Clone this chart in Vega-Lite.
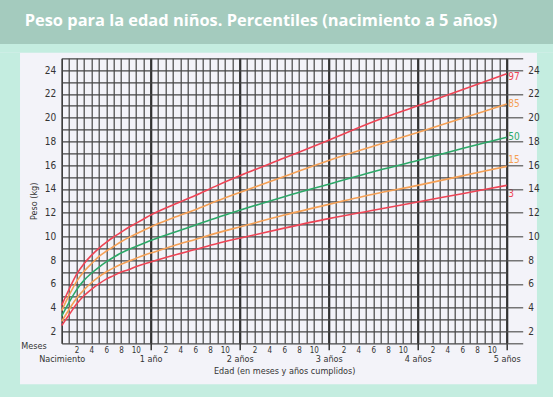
{
  "$schema": "https://vega.github.io/schema/vega-lite/v6.json",
  "width": 445,
  "height": 285,
  "autosize": "none",
  "padding": {"left": 61.7, "top": 58.3, "right": 46.3, "bottom": 53.7},
  "background": "#f3f3f9",
  "config": {
    "view": {"stroke": null},
    "axis": {"domain": false, "labelFont": "DejaVu Sans Condensed", "titleFont": "DejaVu Sans Condensed", "labelColor": "#333", "titleColor": "#333", "titleFontWeight": "normal", "labelFlush": false, "labelOverlap": false, "labelBound": false}
  },
  "datasets": {
    "who": [
      {"m": 0, "3": 2.5, "15": 2.85, "50": 3.3, "85": 3.75, "97": 4.2},
      {"m": 1, "3": 3.4, "15": 3.85, "50": 4.45, "85": 5.05, "97": 5.55},
      {"m": 2, "3": 4.3, "15": 4.8, "50": 5.5, "85": 6.2, "97": 6.8},
      {"m": 3, "3": 5.0, "15": 5.5, "50": 6.3, "85": 7.05, "97": 7.7},
      {"m": 4, "3": 5.55, "15": 6.1, "50": 6.9, "85": 7.7, "97": 8.4},
      {"m": 5, "3": 6.0, "15": 6.6, "50": 7.4, "85": 8.3, "97": 9.0},
      {"m": 6, "3": 6.4, "15": 7.0, "50": 7.85, "85": 8.75, "97": 9.5},
      {"m": 7, "3": 6.7, "15": 7.35, "50": 8.25, "85": 9.15, "97": 9.95},
      {"m": 8, "3": 7.0, "15": 7.65, "50": 8.6, "85": 9.55, "97": 10.35},
      {"m": 9, "3": 7.2, "15": 7.9, "50": 8.9, "85": 9.9, "97": 10.75},
      {"m": 10, "3": 7.45, "15": 8.15, "50": 9.15, "85": 10.2, "97": 11.1},
      {"m": 11, "3": 7.65, "15": 8.4, "50": 9.4, "85": 10.5, "97": 11.45},
      {"m": 12, "3": 7.85, "15": 8.6, "50": 9.65, "85": 10.8, "97": 11.8},
      {"m": 15, "3": 8.4, "15": 9.2, "50": 10.3, "85": 11.55, "97": 12.65},
      {"m": 18, "3": 8.9, "15": 9.75, "50": 10.95, "85": 12.25, "97": 13.45},
      {"m": 21, "3": 9.4, "15": 10.3, "50": 11.6, "85": 13.0, "97": 14.3},
      {"m": 24, "3": 9.85, "15": 10.8, "50": 12.2, "85": 13.7, "97": 15.1},
      {"m": 30, "3": 10.7, "15": 11.8, "50": 13.35, "85": 15.05, "97": 16.6},
      {"m": 36, "3": 11.5, "15": 12.7, "50": 14.4, "85": 16.4, "97": 18.1},
      {"m": 42, "3": 12.2, "15": 13.55, "50": 15.45, "85": 17.6, "97": 19.65},
      {"m": 48, "3": 12.9, "15": 14.3, "50": 16.4, "85": 18.75, "97": 21.0},
      {"m": 54, "3": 13.6, "15": 15.1, "50": 17.4, "85": 19.95, "97": 22.35},
      {"m": 60, "3": 14.3, "15": 15.9, "50": 18.35, "85": 21.15, "97": 23.7}
    ]
  },
  "layer": [
    {
      "data": {"values": [{}]},
      "mark": {"type": "rect", "color": "#c4ede0"},
      "encoding": {
        "x": {"datum": -20, "type": "quantitative", "axis": null},
        "x2": {"datum": 80},
        "y": {"datum": 25.47, "type": "quantitative", "axis": null},
        "y2": {"datum": 40}
      }
    },
    {
      "data": {"values": [{}]},
      "mark": {"type": "rect", "color": "#a4cbbe"},
      "encoding": {
        "x": {"datum": -20, "type": "quantitative", "axis": null},
        "x2": {"datum": 80},
        "y": {"datum": 26.2, "type": "quantitative", "axis": null},
        "y2": {"datum": 40}
      }
    },
    {
      "data": {"values": [{}]},
      "mark": {"type": "rect", "color": "#c4ede0"},
      "encoding": {
        "x": {"datum": -20, "type": "quantitative", "axis": null},
        "x2": {"datum": -5.62},
        "y": {"datum": -10, "type": "quantitative", "axis": null},
        "y2": {"datum": 25.47}
      }
    },
    {
      "data": {"values": [{}]},
      "mark": {"type": "rect", "color": "#c4ede0"},
      "encoding": {
        "x": {"datum": 64.08, "type": "quantitative", "axis": null},
        "x2": {"datum": 80},
        "y": {"datum": -10, "type": "quantitative", "axis": null},
        "y2": {"datum": 25.47}
      }
    },
    {
      "data": {"values": [{}]},
      "mark": {"type": "rect", "color": "#c4ede0"},
      "encoding": {
        "x": {"datum": -20, "type": "quantitative", "axis": null},
        "x2": {"datum": 80},
        "y": {"datum": -10, "type": "quantitative", "axis": null},
        "y2": {"datum": -2.45}
      }
    },
    {
      "data": {"values": [{"t": "Peso para la edad niños. Percentiles (nacimiento a 5 años)"}]},
      "mark": {"type": "text", "font": "Open Sans", "fontSize": 16.4, "fontWeight": "bold", "color": "#ffffff", "align": "center", "baseline": "middle"},
      "encoding": {
        "x": {"datum": 26.87, "type": "quantitative", "axis": null},
        "y": {"datum": 28.14, "type": "quantitative", "axis": null},
        "text": {"field": "t"}
      }
    },
    {
      "data": {"name": "who"},
      "transform": [{"fold": ["3", "15", "50", "85", "97"], "as": ["p", "kg"]}],
      "mark": {"type": "line", "interpolate": "monotone", "strokeWidth": 1.6},
      "encoding": {
        "x": {
          "field": "m", "type": "quantitative",
          "scale": {"domain": [0, 60], "nice": false, "zero": false},
          "axis": {
            "values": [0,1,2,3,4,5,6,7,8,9,10,11,12,13,14,15,16,17,18,19,20,21,22,23,24,25,26,27,28,29,30,31,32,33,34,35,36,37,38,39,40,41,42,43,44,45,46,47,48,49,50,51,52,53,54,55,56,57,58,59,60],
            "grid": true, "gridColor": "#444", "gridWidth": 1.2, "ticks": false,
            "labelExpr": "(datum.value % 12 != 0 && datum.value % 2 == 0) ? '' + (datum.value % 12) : ''",
            "labelFontSize": 8, "labelPadding": 3,
            "title": "Meses", "titleFontSize": 9, "titleX": -28.2, "titleY": 1.7, "titleBaseline": "middle", "titleAlign": "center", "titleAngle": 0
          }
        },
        "y": {
          "field": "kg", "type": "quantitative",
          "scale": {"domain": [1, 25], "nice": false, "zero": false},
          "axis": {
            "values": [1,2,3,4,5,6,7,8,9,10,11,12,13,14,15,16,17,18,19,20,21,22,23,24,25],
            "grid": true, "gridColor": "#444", "gridWidth": 1.2, "ticks": false,
            "labelExpr": "datum.value % 2 == 0 ? '' + datum.value : ''",
            "labelFontSize": 10, "labelPadding": 6,
            "title": "Peso (kg)", "titleFontSize": 9, "titleX": -28.5, "titleY": 142.5, "titleBaseline": "middle", "titleAlign": "center"
          }
        },
        "color": {
          "field": "p", "type": "nominal",
          "scale": {"domain": ["3", "15", "50", "85", "97"], "range": ["#ee4455", "#f5a055", "#2ca868", "#f5a055", "#ee4455"]},
          "legend": null
        }
      }
    },
    {
      "data": {"name": "who"},
      "transform": [{"fold": ["85", "50"], "as": ["p", "kg"]}, {"filter": "datum.m == 60"}],
      "mark": {"type": "text", "font": "DejaVu Sans Condensed", "fontSize": 10, "align": "left", "baseline": "middle", "dx": 1.5},
      "encoding": {
        "x": {
          "field": "m", "type": "quantitative",
          "axis": {
            "orient": "bottom",
            "values": [0, 12, 24, 36, 48, 60],
            "grid": true, "gridColor": "#333",
            "gridWidth": {"condition": {"test": "datum.value == 0", "value": 1.2}, "value": 2.2},
            "ticks": true, "tickSize": 6.5, "tickWidth": 1.5,
            "tickColor": {"condition": {"test": "datum.value == 0", "value": "transparent"}, "value": "#333"},
            "labelExpr": "datum.value == 0 ? 'Nacimiento' : (datum.value == 12 ? '1 año' : (datum.value / 12) + ' años')",
            "labelFontSize": 9, "labelPadding": 5,
            "title": "Edad (en meses y años cumplidos)", "titleFontSize": 9, "titlePadding": 3
          }
        },
        "y": {
          "field": "kg", "type": "quantitative",
          "axis": {
            "orient": "right", "zindex": 2,
            "values": [1,2,4,6,8,10,12,14,16,18,20,22,24,25],
            "grid": false, "ticks": true, "tickSize": 16, "tickWidth": 1.2, "tickColor": "#555",
            "labelExpr": "(datum.value == 1 || datum.value == 25) ? '' : '' + datum.value",
            "labelFontSize": 10, "labelPadding": 5, "title": null
          }
        },
        "text": {"field": "p"},
        "color": {"field": "p", "type": "nominal", "legend": null}
      }
    },
    {
      "data": {"name": "who"},
      "transform": [{"fold": ["97"], "as": ["p", "kg"]}, {"filter": "datum.m == 60"}],
      "mark": {"type": "text", "font": "DejaVu Sans Condensed", "fontSize": 10, "align": "left", "baseline": "middle", "dx": 1.5, "dy": 3},
      "encoding": {
        "x": {"field": "m", "type": "quantitative", "axis": null},
        "y": {"field": "kg", "type": "quantitative", "axis": null},
        "text": {"field": "p"},
        "color": {"field": "p", "type": "nominal", "legend": null}
      }
    },
    {
      "data": {"name": "who"},
      "transform": [{"fold": ["15"], "as": ["p", "kg"]}, {"filter": "datum.m == 60"}],
      "mark": {"type": "text", "font": "DejaVu Sans Condensed", "fontSize": 10, "align": "left", "baseline": "middle", "dx": 1.5, "dy": -6},
      "encoding": {
        "x": {"field": "m", "type": "quantitative", "axis": null},
        "y": {"field": "kg", "type": "quantitative", "axis": null},
        "text": {"field": "p"},
        "color": {"field": "p", "type": "nominal", "legend": null}
      }
    },
    {
      "data": {"name": "who"},
      "transform": [{"fold": ["3"], "as": ["p", "kg"]}, {"filter": "datum.m == 60"}],
      "mark": {"type": "text", "font": "DejaVu Sans Condensed", "fontSize": 10, "align": "left", "baseline": "middle", "dx": 1.5, "dy": 9},
      "encoding": {
        "x": {"field": "m", "type": "quantitative", "axis": null},
        "y": {"field": "kg", "type": "quantitative", "axis": null},
        "text": {"field": "p"},
        "color": {"field": "p", "type": "nominal", "legend": null}
      }
    }
  ],
  "resolve": {"axis": {"x": "independent", "y": "independent"}}
}
